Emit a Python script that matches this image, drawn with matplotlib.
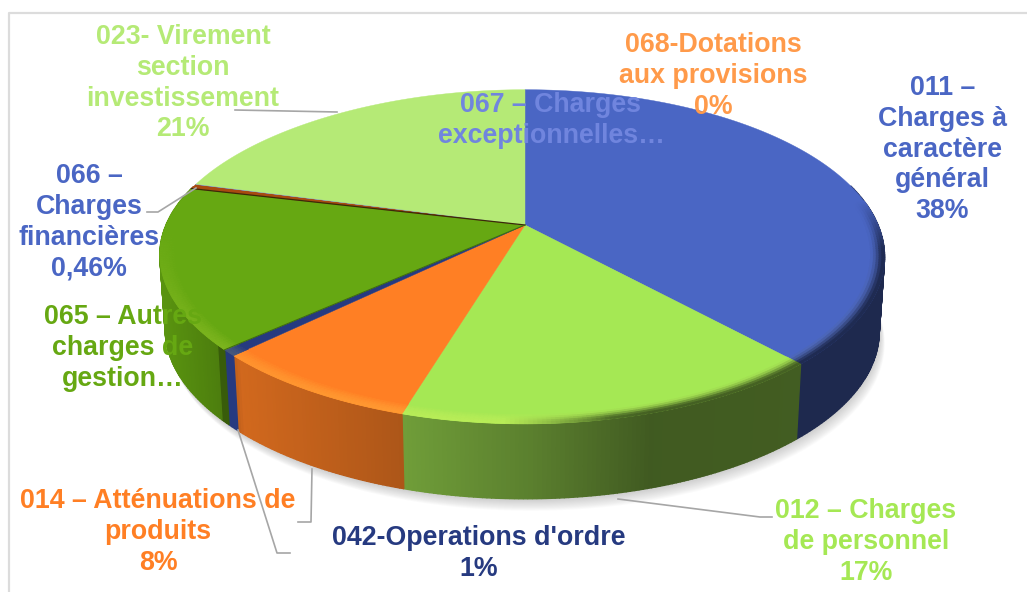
import numpy as np
import matplotlib
matplotlib.use("Agg")
import matplotlib.pyplot as plt

plt.rcParams['font.family'] = ['Liberation Sans', 'DejaVu Sans']

# ---- data ----
categories = ["011", "012", "014", "042", "065", "066", "067", "068", "023"]
values = [38.3, 16.3, 8.0, 0.6, 15.6, 0.46, 0.04, 0.0, 20.7]
top_colors = ["#4A66C4", "#A5E854", "#FF7F24", "#263A80", "#66A812",
              "#A84A10", "#6F86DE", "#FF9A4A", "#B5EA76"]

label_lines = [
    ["011 –", "Charges à", "caractère", "général", "38%"],
    ["012 – Charges", "de personnel", "17%"],
    ["014 – Atténuations de", "produits", "8%"],
    ["042-Operations d'ordre", "1%"],
    ["065 – Autres", "charges de", "gestion…"],
    ["066 –", "Charges", "financières", "0,46%"],
    ["067 – Charges", "exceptionnelles…"],
    ["068-Dotations", "aux provisions", "0%"],
    ["023- Virement", "section", "investissement", "21%"],
]
label_colors = ["#4A66C4", "#A5E854", "#FF7F24", "#263A80", "#66A812",
                "#4A66C4", "#7085DE", "#FF9A4A", "#B5EA76"]
label_x = [942.5, 866, 158, 479, 123, 89, 551, 713, 183]
label_y0 = [86, 509, 499, 536, 315, 174, 103, 43, 35]

leaders = [
    ([235, 337], [110, 112]),
    ([147, 158, 196], [212, 212, 188]),
    ([298, 311, 312], [522, 522, 469]),
    ([290, 277, 238], [553, 553, 430]),
    ([618, 760, 772], [499, 517, 517]),
]

# ---- projection of the unit disc ----
CX, CY = 525.0, 225.0
A, B, K = 353.0, 161.0, 0.19
DEPTH, A_LOW = 75.0, 0.985


def project(r, frac, low=False):
    """frac = clockwise share of the full turn from 12 o'clock."""
    t = 2 * np.pi * np.asarray(frac)
    X, Y = r * np.sin(t), -r * np.cos(t)
    w = 1 - K * Y
    a = A * A_LOW if low else A
    cy = CY + DEPTH if low else CY
    return CX + a * X / w - 6.0 * np.where(X < 0, X ** 4, 0.0), cy + B * Y / w


def mix(c1, c2, t):
    return tuple((1 - t) * np.array(c1) + t * np.array(c2))


def rgb(h):
    return matplotlib.colors.to_rgb(h)


def side_factor(px):
    return np.interp(px, [160, 230, 240, 400, 530, 650, 800, 885],
                     [0.88, 0.72, 0.82, 0.68, 0.55, 0.39, 0.40, 0.40])


fig = plt.figure(figsize=(10.27, 5.92), dpi=100)
ax = fig.add_axes([0, 0, 1, 1])
ax.set_xlim(0, 1027)
ax.set_ylim(592, 0)
ax.axis("off")

# frame
ax.plot([9, 9, 1027], [592, 13, 13], color="#DCDCDC", lw=1.6, zorder=1)

edges = np.concatenate([[0], np.cumsum(values)]) / np.sum(values)

# soft shadow
f_all = np.linspace(0, 1, 361)
for off in np.linspace(16, 1, 12):
    sx, sy = project(1.0, f_all, low=True)
    ax.fill(sx + off * 0.35, sy + off * 0.75, color="#808080", alpha=0.035, lw=0, zorder=2)

# sides
for i in range(len(values)):
    if values[i] <= 0:
        continue
    n = max(2, int(values[i] * 6))
    fr = np.linspace(edges[i], edges[i + 1], n + 1)
    base = rgb(top_colors[i])
    for a, b in zip(fr[:-1], fr[1:]):
        m = 0.5 * (a + b)
        if np.cos(2 * np.pi * m) > 0.25:
            continue
        x1, y1 = project(1.0, np.array([a, b]))
        x2, y2 = project(1.0, np.array([b, a]), low=True)
        f = side_factor(0.5 * (x1[0] + x1[1]))
        if categories[i] == "042":
            f = 1.0
        if categories[i] == "065" and m < edges[i] + 0.005:
            f = 0.55
        col = mix((0, 0, 0), base, f)
        ax.fill(np.r_[x1, x2], np.r_[y1, y2], color=col, lw=1.0, ec=col, zorder=3)

# top faces
for i in range(len(values)):
    if values[i] <= 0:
        continue
    fr = np.linspace(edges[i], edges[i + 1], max(3, int(values[i] * 8)))
    x, y = project(1.0, fr)
    ax.fill(np.r_[CX, x], np.r_[CY, y], color=top_colors[i], lw=0.3, ec=top_colors[i], zorder=4)

# bevel on the rim
radii = np.linspace(0.955, 1.0, 7)
for i in range(len(values)):
    if values[i] <= 0:
        continue
    n = max(2, int(values[i] * 6))
    fr = np.linspace(edges[i], edges[i + 1], n + 1)
    base = rgb(top_colors[i])
    for a, b in zip(fr[:-1], fr[1:]):
        m = 0.5 * (a + b)
        c = -np.cos(2 * np.pi * m)      # >0 towards the viewer
        s = np.sin(2 * np.pi * m)
        vis = np.clip((c + 0.15) / 0.3, 0, 1)
        if vis <= 0:
            continue
        for r1, r2 in zip(radii[:-1], radii[1:]):
            u = (r1 - radii[0]) / (radii[-1] - radii[0])
            xa, ya = project(r1, np.array([a, b]))
            xb, yb = project(r2, np.array([b, a]))
            px = 0.5 * (xa[0] + xa[1])
            dark = mix((0, 0, 0), base, side_factor(px))
            light = mix(base, (1, 1, 0.4), 0.22 * np.clip(c, 0, 1))
            target = mix(light, dark, np.clip((s + 0.05) / 0.25, 0, 1) * min(1, u * 1.4))
            col = mix(base, target, vis * np.sin(np.pi * 0.5 * u))
            ax.fill(np.r_[xa, xb], np.r_[ya, yb], color=col, lw=0.6, ec=col, zorder=5)

# dark seam between the 065 and 066 slices
i065 = categories.index("065")
ex, ey = project(1.0, edges[i065 + 1])
ax.plot([CX, ex], [CY, ey], color="#3A2A08", lw=0.9, zorder=6)
ex, ey = project(1.0, edges[i065])
ax.plot([CX, ex], [CY, ey], color="#3E6A10", lw=0.7, zorder=6)

# leaders
for lx, ly in leaders:
    ax.plot(lx, ly, color="#A6A6A6", lw=1.2, zorder=7, solid_joinstyle="round")

# labels
STEP = 30.7
for lines, col, x0, y0 in zip(label_lines, label_colors, label_x, label_y0):
    for k, line in enumerate(lines):
        ax.text(x0, y0 + k * STEP + 9.3, line, color=col, ha="center", va="baseline",
                fontsize=19.3, fontweight="bold", zorder=8)

fig.savefig("out.png", dpi=100, facecolor="white")
